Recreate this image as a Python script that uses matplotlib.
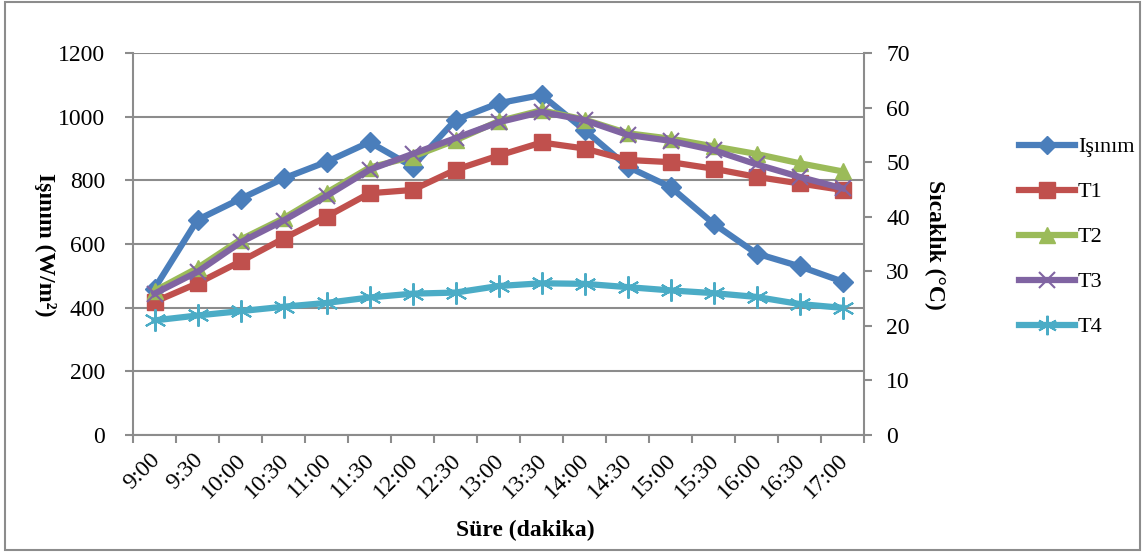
import matplotlib
matplotlib.use("Agg")
import matplotlib.pyplot as plt
from matplotlib.lines import Line2D
from matplotlib.patches import Rectangle
import numpy as np

plt.rcParams['font.family'] = ['Liberation Serif', 'DejaVu Serif']

times = ["9:00", "9:30", "10:00", "10:30", "11:00", "11:30", "12:00", "12:30",
         "13:00", "13:30", "14:00", "14:30", "15:00", "15:30", "16:00", "16:30", "17:00"]
isinim = [460, 676, 742, 806, 858, 920, 843, 990, 1042, 1068, 958, 843, 779, 664, 570, 530, 482]
t1 = [24.4, 27.8, 31.8, 36.0, 40.0, 44.3, 44.9, 48.6, 51.2, 53.6, 52.5, 50.4, 50.0, 48.8, 47.3, 46.1, 44.9]
t2 = [26.4, 30.6, 35.8, 39.7, 44.4, 49.0, 51.0, 54.0, 57.5, 59.5, 57.8, 55.3, 54.3, 52.9, 51.5, 49.8, 48.3]
t3 = [25.9, 29.9, 35.3, 39.3, 43.8, 48.6, 51.5, 54.4, 57.3, 59.2, 57.7, 55.0, 53.9, 52.2, 49.6, 47.3, 45.2]
t4 = [21.0, 21.9, 22.7, 23.5, 24.2, 25.2, 25.9, 26.1, 27.3, 27.8, 27.7, 27.1, 26.5, 26.0, 25.3, 24.0, 23.3]

c_is, c1, c2, c3, c4 = "#4A7EBB", "#C0504D", "#9BBB59", "#8064A2", "#4BACC6"
grey = "#8C8C8C"
fs = 17

fig = plt.figure(figsize=(11.44, 5.52), dpi=100)
W, H = 1144, 552
L, R, T, B = 133, 864, 53, 435
ax = fig.add_axes([L / W, 1 - B / H, (R - L) / W, (B - T) / H])
ax2 = ax.twinx()

x = np.arange(len(times)) + 0.5
lw = 4.5
ms = 10
ax.plot(x, isinim, color=c_is, lw=lw, marker='D', ms=ms, mec=c_is, zorder=3)
ax2.plot(x, t1, color=c1, lw=lw, marker='s', ms=ms + 2, mec=c1, zorder=3)
ax2.plot(x, t2, color=c2, lw=lw, marker='^', ms=ms + 2, mec=c2, zorder=3)
ax2.plot(x, t3, color=c3, lw=lw, marker='x', ms=ms + 2, mew=1.5, mec=c3, zorder=4)
ax2.plot(x, t4, color=c4, lw=lw, marker=(6, 2, 0), ms=ms + 6, mew=1.5, mec=c4, zorder=3)

ax.set_xlim(0, len(times))
ax.set_ylim(0, 1200)
ax2.set_ylim(0, 70)
ax.set_yticks(range(0, 1201, 200))
ax2.set_yticks(range(0, 71, 10))
ax.set_xticks(np.arange(len(times) + 1))
ax.set_xticklabels([])
ax.grid(axis='y', color=grey, lw=1.5)
ax.set_axisbelow(True)

for a in (ax, ax2):
    for s in a.spines.values():
        s.set_visible(False)
ax.spines['left'].set_visible(True)
ax.spines['bottom'].set_visible(True)
ax2.spines['right'].set_visible(True)
for s in (ax.spines['left'], ax.spines['bottom'], ax2.spines['right']):
    s.set_color(grey)
    s.set_linewidth(1.5)

ax.tick_params(axis='y', length=6, width=1.5, color=grey, labelsize=fs, pad=14)
ax.tick_params(axis='x', length=6, width=1.5, color=grey)
ax2.tick_params(axis='y', length=6, width=1.5, color=grey, labelsize=fs, pad=10)

for xi, lab in zip(x, times):
    ax.annotate(lab, xy=(xi, 0), xycoords=('data', 'axes fraction'),
                xytext=(2, -22), textcoords='offset pixels',
                rotation=45, rotation_mode='anchor', ha='right', va='center',
                fontsize=fs)

fig.text(45 / W, 1 - 245 / H, "Işınım (W/m²)", rotation=-90, ha='center', va='center',
         fontsize=fs, fontweight='bold')
fig.text(935 / W, 1 - 245 / H, "Sıcaklık (°C)", rotation=-90, ha='center', va='center',
         fontsize=fs, fontweight='bold')
fig.text(525 / W, 1 - 530 / H, "Süre (dakika)", ha='center', va='center',
         fontsize=fs, fontweight='bold')

handles = [
    Line2D([], [], color=c_is, lw=lw, marker='D', ms=ms - 1, mec=c_is),
    Line2D([], [], color=c1, lw=lw, marker='s', ms=ms + 1, mec=c1),
    Line2D([], [], color=c2, lw=lw, marker='^', ms=ms + 1, mec=c2),
    Line2D([], [], color=c3, lw=lw, marker='x', ms=ms + 1, mew=1.5, mec=c3),
    Line2D([], [], color=c4, lw=lw, marker=(6, 2, 0), ms=ms + 4, mew=1.5, mec=c4),
]
fig.legend(handles, ["Işınım", "T1", "T2", "T3", "T4"], loc='center left',
           bbox_to_anchor=(1008 / W, 1 - 237 / H), frameon=False, fontsize=16,
           handlelength=2.5, handletextpad=0.15, labelspacing=1.1, borderpad=0)

fig.patches.append(Rectangle((5 / W, 2 / H), 1135 / W, 548 / H, transform=fig.transFigure,
                             fill=False, edgecolor=grey, lw=1.5))

fig.savefig("out.png", dpi=100)
